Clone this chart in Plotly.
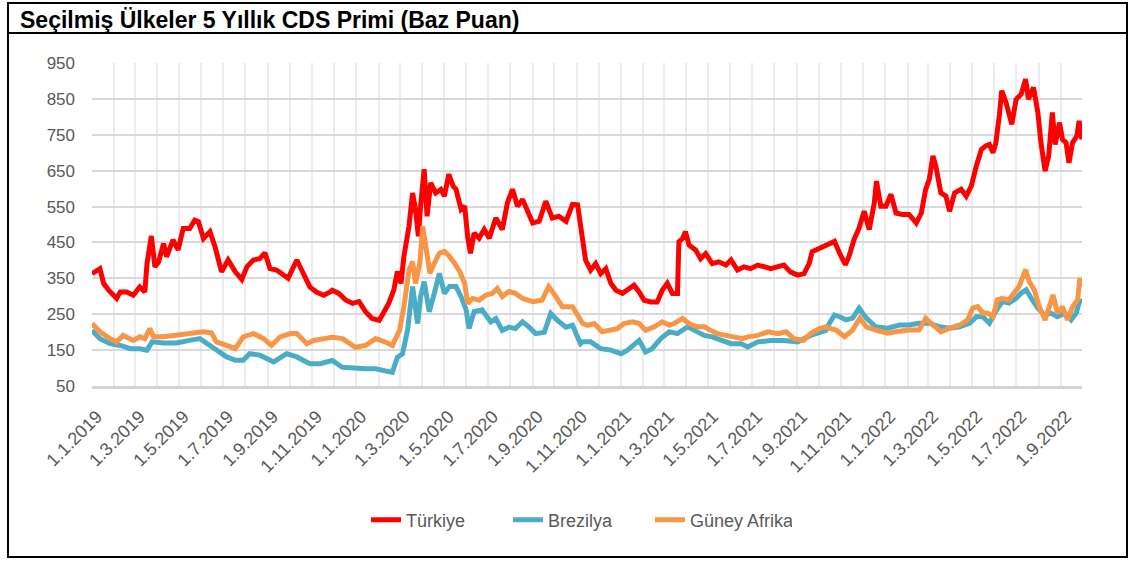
import plotly.graph_objects as go

# ---------------- data ----------------
tr_dates = [
    "2019-01-01", "2019-01-12", "2019-01-17", "2019-01-24", "2019-02-04", "2019-02-09", "2019-02-18",
    "2019-02-27", "2019-03-08", "2019-03-15", "2019-03-18", "2019-03-24", "2019-03-29", "2019-04-03",
    "2019-04-10", "2019-04-14", "2019-04-23", "2019-04-30", "2019-05-07", "2019-05-16", "2019-05-23",
    "2019-05-28", "2019-06-04", "2019-06-13", "2019-06-20", "2019-06-29", "2019-07-08", "2019-07-18",
    "2019-07-27", "2019-08-03", "2019-08-12", "2019-08-21", "2019-08-28", "2019-09-04", "2019-09-13",
    "2019-09-22", "2019-09-29", "2019-10-11", "2019-10-20", "2019-10-29", "2019-11-07", "2019-11-17",
    "2019-11-26", "2019-11-29", "2019-12-08", "2019-12-18", "2019-12-27", "2020-01-05", "2020-01-14",
    "2020-01-23", "2020-02-02", "2020-02-09", "2020-02-15", "2020-02-22", "2020-02-27", "2020-03-03",
    "2020-03-07", "2020-03-14", "2020-03-19", "2020-03-23", "2020-03-27", "2020-03-30", "2020-04-04",
    "2020-04-08", "2020-04-13", "2020-04-20", "2020-04-27", "2020-05-02", "2020-05-08", "2020-05-14",
    "2020-05-18", "2020-05-25", "2020-05-30", "2020-06-03", "2020-06-07", "2020-06-12", "2020-06-19",
    "2020-06-26", "2020-07-03", "2020-07-12", "2020-07-21", "2020-07-28", "2020-08-04", "2020-08-11",
    "2020-08-18", "2020-08-25", "2020-09-01", "2020-09-10", "2020-09-19", "2020-09-28", "2020-10-07",
    "2020-10-17", "2020-10-26", "2020-11-02", "2020-11-06", "2020-11-13", "2020-11-20", "2020-11-27",
    "2020-12-04", "2020-12-11", "2020-12-18", "2020-12-25", "2021-01-03", "2021-01-10", "2021-01-19",
    "2021-01-26", "2021-02-02", "2021-02-11", "2021-02-20", "2021-02-27", "2021-03-06", "2021-03-13",
    "2021-03-20", "2021-03-22", "2021-03-27", "2021-03-31", "2021-04-05", "2021-04-14", "2021-04-21",
    "2021-04-28", "2021-05-07", "2021-05-16", "2021-05-26", "2021-06-02", "2021-06-11", "2021-06-20",
    "2021-06-29", "2021-07-09", "2021-07-18", "2021-07-27", "2021-08-05", "2021-08-14", "2021-08-23",
    "2021-09-02", "2021-09-11", "2021-09-18", "2021-09-22", "2021-10-02", "2021-10-11", "2021-10-16",
    "2021-10-23", "2021-10-30", "2021-11-07", "2021-11-12", "2021-11-19", "2021-11-26", "2021-12-03",
    "2021-12-10", "2021-12-17", "2021-12-20", "2021-12-26", "2022-01-02", "2022-01-09", "2022-01-16",
    "2022-01-25", "2022-02-03", "2022-02-13", "2022-02-20", "2022-02-26", "2022-03-03", "2022-03-08",
    "2022-03-12", "2022-03-19", "2022-03-26", "2022-03-31", "2022-04-07", "2022-04-16", "2022-04-23",
    "2022-04-30", "2022-05-07", "2022-05-14", "2022-05-20", "2022-05-25", "2022-05-30", "2022-06-03",
    "2022-06-08", "2022-06-11", "2022-06-17", "2022-06-25", "2022-07-01", "2022-07-08", "2022-07-14",
    "2022-07-18", "2022-07-25", "2022-07-31", "2022-08-04", "2022-08-10", "2022-08-15", "2022-08-20",
    "2022-08-24", "2022-08-30", "2022-09-03", "2022-09-08", "2022-09-12", "2022-09-17", "2022-09-23",
    "2022-09-26", "2022-09-30",
]
tr_values = [
    363, 377, 336, 317, 294, 312, 312,
    303, 326, 312, 391, 468, 382, 396,
    447, 410, 457, 429, 489, 489, 512,
    508, 461, 480, 438, 368, 401, 368,
    347, 382, 401, 405, 421, 377, 373,
    359, 350, 401, 363, 326, 312, 303,
    312, 317, 308, 289, 280, 285, 257,
    238, 233, 261, 280, 317, 369, 336,
    411, 495, 588, 542, 467, 551, 654,
    523, 616, 588, 598, 579, 640, 607,
    598, 542, 551, 467, 420, 476, 462,
    486, 462, 518, 486, 560, 598, 551,
    570, 537, 504, 509, 565, 518, 523,
    509, 556, 555, 503, 401, 373, 391,
    363, 377, 336, 317, 308, 317, 331,
    312, 289, 284, 284, 317, 336, 308,
    308, 452, 461, 480, 443, 429, 405,
    419, 391, 396, 387, 401, 373, 382,
    377, 387, 382, 377, 382, 387, 368,
    359, 363, 391, 424, 433, 443, 444,
    453, 420, 388, 411, 458, 490, 537,
    486, 560, 621, 551, 551, 584, 532,
    528, 528, 504, 532, 598, 626, 691,
    663, 588, 579, 537, 588, 598, 579,
    607, 663, 709, 719, 723, 700, 728,
    807, 873, 840, 779, 849, 863, 905,
    849, 882, 812, 733, 649, 691, 812,
    723, 784, 737, 728, 672, 728, 747,
    789, 737,
]

br_dates = [
    "2019-01-01", "2019-01-12", "2019-01-26", "2019-02-09", "2019-02-23", "2019-03-08", "2019-03-18",
    "2019-03-25", "2019-04-10", "2019-04-28", "2019-05-16", "2019-05-30", "2019-06-13", "2019-06-25",
    "2019-07-06", "2019-07-18", "2019-07-29", "2019-08-07", "2019-08-21", "2019-09-09", "2019-09-27",
    "2019-10-11", "2019-10-29", "2019-11-12", "2019-11-29", "2019-12-13", "2019-12-31", "2020-01-14",
    "2020-01-28", "2020-02-11", "2020-02-20", "2020-02-27", "2020-03-05", "2020-03-12", "2020-03-19",
    "2020-03-26", "2020-03-30", "2020-04-04", "2020-04-11", "2020-04-18", "2020-04-25", "2020-05-02",
    "2020-05-09", "2020-05-18", "2020-05-25", "2020-06-01", "2020-06-05", "2020-06-12", "2020-06-23",
    "2020-07-05", "2020-07-12", "2020-07-21", "2020-07-30", "2020-08-08", "2020-08-18", "2020-08-27",
    "2020-09-05", "2020-09-17", "2020-09-26", "2020-10-05", "2020-10-17", "2020-10-26", "2020-11-06",
    "2020-11-09", "2020-11-20", "2020-12-04", "2020-12-18", "2021-01-01", "2021-01-10", "2021-01-26",
    "2021-02-04", "2021-02-13", "2021-02-25", "2021-03-09", "2021-03-20", "2021-04-03", "2021-04-16",
    "2021-04-26", "2021-05-07", "2021-05-19", "2021-06-02", "2021-06-16", "2021-06-25", "2021-07-09",
    "2021-07-27", "2021-08-14", "2021-09-02", "2021-09-20", "2021-10-11", "2021-10-16", "2021-10-23",
    "2021-10-30", "2021-11-08", "2021-11-17", "2021-11-26", "2021-12-06", "2021-12-19", "2022-01-04",
    "2022-01-21", "2022-02-03", "2022-02-17", "2022-03-03", "2022-03-17", "2022-03-31", "2022-04-14",
    "2022-04-28", "2022-05-07", "2022-05-16", "2022-05-25", "2022-06-04", "2022-06-12", "2022-06-21",
    "2022-07-01", "2022-07-08", "2022-07-15", "2022-07-22", "2022-07-31", "2022-08-09", "2022-08-18",
    "2022-08-27", "2022-09-06", "2022-09-15", "2022-09-22", "2022-09-27", "2022-09-30",
]
br_values = [
    205, 182, 168, 163, 154, 154, 150,
    173, 170, 170, 177, 182, 163, 145,
    131, 122, 122, 140, 136, 117, 140,
    131, 112, 112, 121, 102, 98, 98,
    98, 93, 88, 130, 140, 205, 327,
    224, 299, 341, 257, 308, 364, 308,
    327, 327, 299, 262, 210, 257, 262,
    229, 238, 205, 214, 210, 229, 214,
    196, 200, 252, 233, 214, 219, 168,
    173, 173, 154, 150, 140, 150, 177,
    145, 154, 182, 201, 196, 215, 201,
    191, 187, 177, 168, 168, 159, 173,
    177, 177, 173, 191, 205, 225, 248,
    243, 234, 239, 267, 239, 215, 211,
    220, 220, 225, 225, 215, 211, 215,
    225, 243, 243, 225, 262, 285, 281,
    294, 309, 318, 294, 267, 248, 253,
    243, 253, 234, 253, 290, 281,
]

za_dates = [
    "2019-01-01", "2019-01-12", "2019-01-26", "2019-02-04", "2019-02-13", "2019-02-27", "2019-03-08",
    "2019-03-15", "2019-03-22", "2019-03-27", "2019-04-10", "2019-04-28", "2019-05-12", "2019-06-04",
    "2019-06-15", "2019-06-22", "2019-07-06", "2019-07-18", "2019-07-29", "2019-08-12", "2019-08-26",
    "2019-09-06", "2019-09-18", "2019-10-02", "2019-10-11", "2019-10-25", "2019-11-03", "2019-11-17",
    "2019-11-29", "2019-12-13", "2019-12-31", "2020-01-14", "2020-01-28", "2020-02-11", "2020-02-20",
    "2020-03-01", "2020-03-07", "2020-03-14", "2020-03-19", "2020-03-23", "2020-03-29", "2020-04-02",
    "2020-04-07", "2020-04-12", "2020-04-18", "2020-04-25", "2020-05-02", "2020-05-09", "2020-05-16",
    "2020-05-23", "2020-05-30", "2020-06-03", "2020-06-10", "2020-06-19", "2020-06-28", "2020-07-07",
    "2020-07-14", "2020-07-21", "2020-07-30", "2020-08-08", "2020-08-18", "2020-09-01", "2020-09-14",
    "2020-09-23", "2020-09-30", "2020-10-12", "2020-10-26", "2020-11-06", "2020-11-09", "2020-11-16",
    "2020-11-25", "2020-12-06", "2020-12-18", "2020-12-27", "2021-01-05", "2021-01-17", "2021-01-26",
    "2021-02-04", "2021-02-16", "2021-02-27", "2021-03-09", "2021-03-15", "2021-03-27", "2021-04-05",
    "2021-04-16", "2021-04-26", "2021-05-05", "2021-05-14", "2021-05-26", "2021-06-06", "2021-06-18",
    "2021-06-25", "2021-07-09", "2021-07-23", "2021-08-06", "2021-08-17", "2021-08-28", "2021-09-10",
    "2021-09-20", "2021-10-02", "2021-10-11", "2021-10-16", "2021-10-25", "2021-11-06", "2021-11-17",
    "2021-11-27", "2021-12-06", "2021-12-19", "2022-01-04", "2022-01-16", "2022-02-03", "2022-02-17",
    "2022-02-26", "2022-03-08", "2022-03-19", "2022-03-31", "2022-04-14", "2022-04-25", "2022-05-02",
    "2022-05-09", "2022-05-16", "2022-05-23", "2022-05-30", "2022-06-05", "2022-06-12", "2022-06-21",
    "2022-06-28", "2022-07-05", "2022-07-14", "2022-07-19", "2022-07-26", "2022-08-02", "2022-08-10",
    "2022-08-16", "2022-08-21", "2022-08-27", "2022-09-03", "2022-09-10", "2022-09-17", "2022-09-24",
    "2022-09-27", "2022-09-30",
]
za_values = [
    224, 201, 182, 173, 191, 177, 187,
    182, 210, 187, 187, 191, 196, 201,
    198, 173, 163, 154, 187, 196, 182,
    163, 187, 196, 196, 168, 177, 182,
    186, 182, 158, 163, 182, 172, 163,
    205, 271, 373, 397, 336, 392, 495,
    429, 364, 392, 420, 425, 411, 392,
    369, 336, 280, 294, 289, 303, 308,
    322, 299, 313, 308, 294, 285, 289,
    327, 308, 271, 271, 233, 224, 219,
    224, 201, 205, 210, 224, 229, 224,
    205, 215, 229, 219, 224, 238, 224,
    215, 215, 205, 196, 191, 187, 182,
    187, 191, 201, 196, 201, 182, 177,
    196, 210, 215, 211, 206, 187, 206,
    239, 215, 206, 197, 201, 206, 206,
    239, 220, 201, 211, 220, 234, 267,
    271, 253, 253, 243, 290, 294, 290,
    309, 327, 374, 341, 318, 271, 234,
    271, 304, 253, 271, 234, 271, 290,
    350, 327,
]

series_names = ["Türkiye", "Brezilya", "Güney Afrika"]
series_colors = ["#ff0000", "#4bacc6", "#f79646"]

title_text = "Seçilmiş Ülkeler 5 Yıllık CDS Primi (Baz Puan)"
x_range = ["2019-01-01", "2022-09-30"]
y_range = [50, 950]

# ---------------- figure ----------------
fig = go.Figure()
for name, d, v, c in zip(series_names,
                         [tr_dates, br_dates, za_dates],
                         [tr_values, br_values, za_values],
                         series_colors):
    fig.add_trace(go.Scatter(x=d, y=v, mode="lines", name=name,
                             line=dict(color=c, width=5)))

y_font = dict(family="Liberation Sans, Arial", size=17, color="#595959")
x_font = dict(family="Liberation Sans, Arial", size=18, color="#595959")
legend_font = dict(family="Liberation Sans, Arial", size=18, color="#595959")

fig.update_layout(
    width=1133, height=561,
    margin=dict(l=92, r=51, t=63, b=175),
    paper_bgcolor="white", plot_bgcolor="white",
    showlegend=True,
    title=dict(text="<b>" + title_text + "</b>", xref="container", x=20 / 1133, xanchor="left",
               yref="container", y=1 - 20 / 561, yanchor="middle",
               font=dict(family="Liberation Sans, Arial", size=23, color="black")),
    legend=dict(orientation="h", xref="container", x=366 / 1133, xanchor="left",
                yref="container", y=1 - 520 / 561, yanchor="middle",
                font=legend_font, entrywidth=97, entrywidthmode="pixels",
                tracegroupgap=0),
    xaxis=dict(type="date", range=x_range, tick0="2019-01-01", dtick="M2",
               tickformat="%-d.%-m.%Y", tickangle=-45, tickfont=x_font,
               showgrid=True, gridcolor="#ececec", gridwidth=2,
               minor=dict(dtick="M1", showgrid=True, gridcolor="#ececec", gridwidth=2),
               showline=True, linecolor="#d4d4d4", linewidth=3, zeroline=False,
               ticks="outside", ticklen=10, tickcolor="rgba(0,0,0,0)",
               ticklabelshift=5, fixedrange=True),
    yaxis=dict(range=y_range, tick0=50, dtick=100, tickfont=y_font,
               showgrid=True, gridcolor="#d9d9d9", gridwidth=2,
               zeroline=False, showline=False, ticks="", ticklabelstandoff=16),
)

# frame around the chart and the line under the title
def px_x(px):
    return (px - 92) / 990.0

def px_y(py):
    return (386 - py) / 323.0

fig.add_shape(type="rect", xref="paper", yref="paper",
              x0=px_x(8), x1=px_x(1127), y0=px_y(557), y1=px_y(3),
              line=dict(color="black", width=2), fillcolor="rgba(0,0,0,0)", layer="below")
fig.add_shape(type="line", xref="paper", yref="paper",
              x0=px_x(8), x1=px_x(1127), y0=px_y(33), y1=px_y(33),
              line=dict(color="black", width=2))

fig.write_html("out.html")
